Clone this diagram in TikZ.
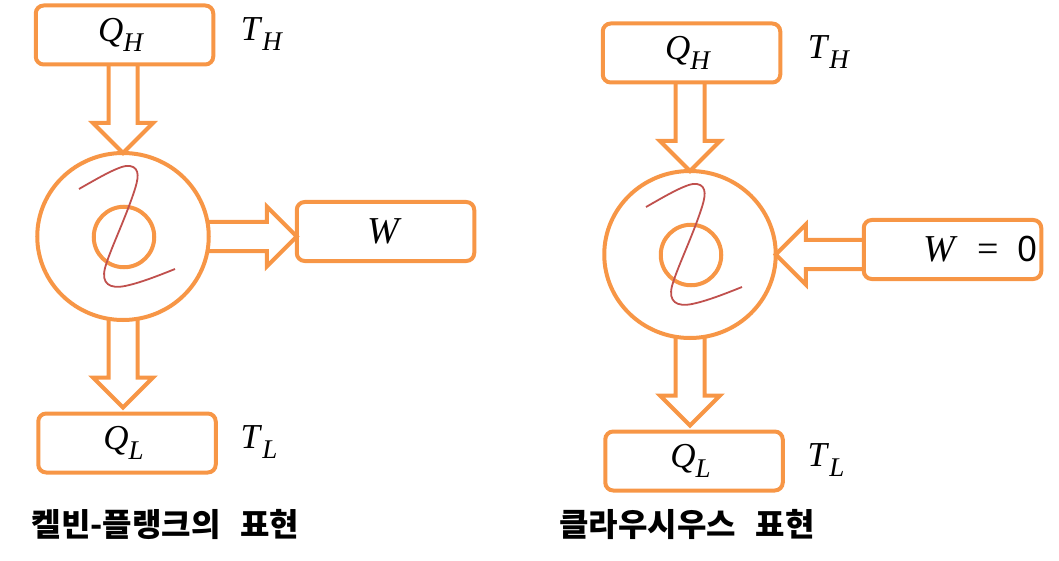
\documentclass[tikz,border=0pt]{standalone}
\usepackage{fontspec}
\setmainfont{Liberation Serif}
\newfontfamily\korean{Noto Sans CJK KR}
\newfontfamily\zerofont{Noto Sans}
\usetikzlibrary{calc,shapes.geometric}
\definecolor{engine}{RGB}{247,150,70}
\definecolor{squiggle}{RGB}{192,80,77}
\newcommand{\sym}[2]{\raisebox{-2.5pt}{\textit{#1}\raisebox{-.28em}{\fontsize{27}{27}\selectfont\textit{#2}}}\hspace*{7pt}}
\begin{document}
\begin{tikzpicture}
	[x=1pt,y=-1pt,line width=4pt,
	block/.style={rectangle, rounded corners=8pt, draw=engine, minimum width=177.5pt, minimum height=59pt, outer sep=0pt, inner sep=0pt, font=\fontsize{35}{35}\selectfont},
	wheel/.style={ellipse, draw=engine, minimum width=171.5pt, minimum height=167pt, outer sep=0pt, inner sep=0pt},
	hub/.style={circle, draw=engine, minimum size=60.5pt, outer sep=0pt, inner sep=0pt},
	temp/.style={inner sep=0pt, font=\fontsize{35}{35}\selectfont},
	caption/.style={inner sep=0pt, font=\korean\bfseries\fontsize{32}{32}\selectfont},
	fat/.style={draw=engine, miter limit=10, to path={
		($(\tikztostart)!14.5pt!90:(\tikztotarget)$)
		-- ($($(\tikztotarget)!30pt!(\tikztostart)$)!14.5pt!90:(\tikztotarget)$)
		-- ($($(\tikztotarget)!30pt!(\tikztostart)$)!30pt!90:(\tikztotarget)$)
		-- (\tikztotarget)
		-- ($($(\tikztotarget)!30pt!(\tikztostart)$)!30pt!-90:(\tikztotarget)$)
		-- ($($(\tikztotarget)!30pt!(\tikztostart)$)!14.5pt!-90:(\tikztotarget)$)
		-- ($(\tikztostart)!14.5pt!-90:(\tikztotarget)$)}},
	curl/.style={draw=squiggle, line width=1.8pt}]
	\useasboundingbox (0,0) rectangle (1059,561);
	\begin{scope}[shift={(0,0)}]
		\node[block] (qh1) at (124.5,35) {\sym{Q}{H}};
		\node[wheel] (c1) at (123,236.5) {};
		\node[hub] (h1) at (124,237) {};
		\node[block] (w1) at (385.5,231.5) {\fontsize{38}{38}\selectfont\textit{W}\hspace*{2pt}};
		\node[block] (ql1) at (127,443) {\sym{Q}{L}};
		\node[temp] (th1) at (262,34) {\textit{T}\raisebox{-.28em}{\fontsize{27}{27}\selectfont\textit{H}}};
		\node[temp] (tl1) at (259,442) {\textit{T}\raisebox{-.28em}{\fontsize{27}{27}\selectfont\textit{L}}};
		\node[caption] (cap1) at (165.5,524) {켈빈-플랭크의\hspace{20pt}표현};
		\draw[fat] (qh1.south -| c1.north) to (c1.north);
		\draw[fat] (c1.east) to (c1.east -| w1.west);
		\draw[fat] (c1.south) to ($(c1.south |- ql1.north)+(0,-6)$);
		\draw[curl] (79,189) .. controls (100,177) and (122,164) .. (130,166)
			.. controls (141,168) and (138,180) .. (134,192)
			.. controls (124,222) and (110,250) .. (105,268)
			.. controls (101,284) and (110,289) .. (125,286)
			.. controls (140,283) and (160,275) .. (175,269);
	\end{scope}
	\begin{scope}[shift={(567,18)}]
		\node[block] (qh2) at (124.5,35) {\sym{Q}{H}};
		\node[wheel] (c2) at (123,236.5) {};
		\node[hub] (h2) at (124,237) {};
		\node[block] (w2) at (385.5,231.5) {\hspace*{56pt}\fontsize{38}{38}\selectfont\textit{W}\ \ =\ \ {\zerofont\fontsize{35}{35}\selectfont 0}};
		\node[block] (ql2) at (127,443) {\sym{Q}{L}};
		\node[temp] (th2) at (262,34) {\textit{T}\raisebox{-.28em}{\fontsize{27}{27}\selectfont\textit{H}}};
		\node[temp] (tl2) at (259,442) {\textit{T}\raisebox{-.28em}{\fontsize{27}{27}\selectfont\textit{L}}};
		\node[caption] (cap2) at (120,506) {클라우시우스\hspace{20pt}표현};
		\draw[fat] (qh2.south -| c2.north) to (c2.north);
		\draw[fat] (c2.east -| w2.west) to (c2.east);
		\draw[fat] (c2.south) to ($(c2.south |- ql2.north)+(0,-6)$);
		\draw[curl] (79,189) .. controls (100,177) and (122,164) .. (130,166)
			.. controls (141,168) and (138,180) .. (134,192)
			.. controls (124,222) and (110,250) .. (105,268)
			.. controls (101,284) and (110,289) .. (125,286)
			.. controls (140,283) and (160,275) .. (175,269);
	\end{scope}
\end{tikzpicture}
\end{document}
